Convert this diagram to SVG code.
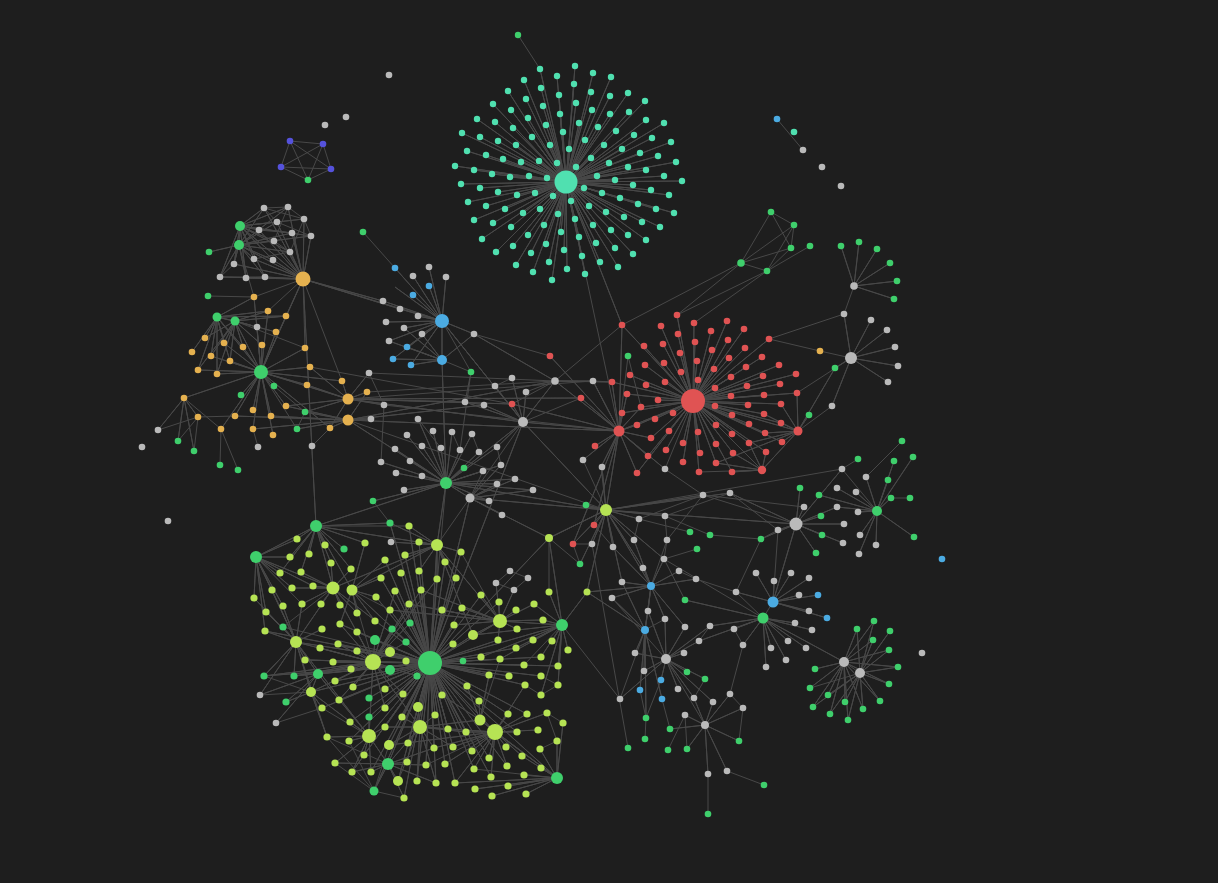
<svg xmlns="http://www.w3.org/2000/svg" width="1218" height="883" viewBox="0 0 1218 883">
<style>
.t{fill:#50e0b0}.r{fill:#e05353}.l{fill:#b6e354}.g{fill:#3fcf6c}.o{fill:#e5b14f}.b{fill:#4babe2}.p{fill:#5552dc}.y{fill:#bababa}
.e path{fill:none;stroke:#484848;stroke-width:1;stroke-linejoin:round}
</style>
<rect width="1218" height="883" fill="#1e1e1e"/>
<g id="connectors" class="e">
<path d="M566 182 540 69 566 182 575 66 566 182 557 76 566 182 593 73 566 182 611 77 566 182 524 80 566 182 541 88 566 182 574 84 566 182 508 91 566 182 591 92 566 182 628 93 566 182 526 99 566 182 559 95 566 182 610 96 566 182 493 104 566 182 576 103 566 182 645 101 566 182 543 106 566 182 511 110 566 182 592 110 566 182 629 112 566 182 477 119 566 182 528 118 566 182 560 114 566 182 610 114 566 182 646 120 566 182 664 123 566 182 495 122 566 182 546 125 566 182 579 123 566 182 598 127 566 182 616 131 566 182 462 133 566 182 513 128 566 182 563 132 566 182 634 135 566 182 652 138 566 182 671 142 566 182 480 137 566 182 498 141 566 182 516 145 566 182 532 137 566 182 550 145 566 182 585 140 566 182 604 145 566 182 622 149 566 182 640 153 566 182 658 156 566 182 676 162 566 182 467 151 566 182 486 155 566 182 503 159 566 182 521 162 566 182 539 161 566 182 557 163 566 182 569 149 566 182 576 167 566 182 591 158 566 182 609 163 566 182 628 167 566 182 646 170 566 182 664 176 566 182 682 181 566 182 455 166 566 182 474 170 566 182 492 174 566 182 510 177 566 182 529 176 566 182 547 178 566 182 597 176 566 182 615 180 566 182 633 185 566 182 651 190 566 182 669 195 566 182 461 184 566 182 480 188 566 182 498 192 566 182 517 195 566 182 535 193 566 182 553 196 566 182 584 188 566 182 602 193 566 182 620 198 566 182 638 204 566 182 656 209 566 182 674 213 566 182 468 202 566 182 486 206 566 182 505 209 566 182 523 213 566 182 540 209 566 182 558 214 566 182 571 201 566 182 589 206 566 182 606 212 566 182 624 217 566 182 642 222 566 182 660 227 566 182 474 220 566 182 493 223 566 182 511 227 566 182 528 235 566 182 544 225 566 182 561 232 566 182 575 219 566 182 593 225 566 182 611 230 566 182 628 235 566 182 646 240 566 182 482 239 566 182 496 252 566 182 513 246 566 182 531 253 566 182 546 244 566 182 564 250 566 182 579 237 566 182 596 243 566 182 615 248 566 182 633 254 566 182 516 265 566 182 533 272 566 182 549 262 566 182 567 269 566 182 582 256 566 182 600 262 566 182 618 267 566 182 552 280 566 182 585 274 566 182 622 325 566 182 619 431M540 69 518 35"/>
<path d="M693 401 677 315 693 401 622 325 693 401 661 326 693 401 694 323 693 401 727 321 693 401 744 329 693 401 644 346 693 401 678 334 693 401 711 331 693 401 663 344 693 401 695 342 693 401 728 340 693 401 745 348 693 401 769 339 693 401 680 353 693 401 712 350 693 401 645 365 693 401 664 363 693 401 697 361 693 401 729 358 693 401 746 367 693 401 762 357 693 401 779 365 693 401 796 374 693 401 612 382 693 401 630 375 693 401 681 372 693 401 714 369 693 401 731 377 693 401 763 376 693 401 646 385 693 401 665 382 693 401 698 380 693 401 747 386 693 401 780 384 693 401 797 393 693 401 627 394 693 401 658 400 693 401 715 388 693 401 731 396 693 401 764 395 693 401 781 404 693 401 641 407 693 401 673 413 693 401 715 406 693 401 748 405 693 401 622 413 693 401 655 419 693 401 732 415 693 401 764 414 693 401 637 425 693 401 669 431 693 401 698 432 693 401 716 425 693 401 749 424 693 401 781 423 693 401 651 438 693 401 683 443 693 401 732 434 693 401 765 433 693 401 716 444 693 401 749 443 693 401 782 442 693 401 648 456 693 401 666 450 693 401 700 453 693 401 733 453 693 401 766 452 693 401 683 462 693 401 716 463 693 401 637 473 693 401 699 472 693 401 732 472 693 401 619 431 693 401 798 431 693 401 762 470"/>
<path d="M619 431 581 398 619 431 595 446 619 431 550 356 619 431 512 404 619 431 622 325 619 431 612 382 619 431 637 473 619 431 594 525 619 431 573 544 619 431 606 510 619 431 651 438 619 431 641 407 619 431 622 413 619 431 627 394 619 431 583 460 619 431 601 467 619 431 523 422 619 431 555 381 619 431 637 425 619 431 648 456 619 431 665 469 619 431 593 381 619 431 628 356M798 431 781 404 798 431 764 414 798 431 765 433 798 431 749 443 798 431 797 393 798 431 762 470 798 431 782 442 798 431 781 423 798 431 809 415 798 431 835 368 798 431 716 463 798 431 832 406M762 470 766 452 762 470 733 453 762 470 749 443 762 470 732 472 762 470 716 463 762 470 699 472M677 315 741 263M694 323 767 271M769 339 844 314M820 351 769 339M820 351 851 358M512 404 555 381 622 325M550 356 474 334M581 398 523 422M628 356 641 407M665 469 693 401"/>
<path d="M851 358 844 314 851 358 871 320 851 358 887 330 851 358 895 347 851 358 898 366 851 358 888 382 851 358 832 406 851 358 835 368 851 358 797 393M854 286 841 246 854 286 859 242 854 286 877 249 854 286 890 263 854 286 897 281 854 286 894 299 854 286 844 314M771 212 794 225M771 212 791 248M771 212 741 263M794 225 741 263M794 225 767 271M794 225 791 248M791 248 741 263M791 248 767 271M810 246 767 271M741 263 767 271M741 263 622 325M767 271 677 315M777 119 803 150"/>
<path d="M796 524 778 530 796 524 804 507 796 524 821 516 796 524 822 535 796 524 816 553 796 524 837 507 796 524 844 524 796 524 843 543 796 524 730 493 796 524 761 539 796 524 800 488 796 524 842 469 796 524 773 602 796 524 606 510 796 524 703 495M877 511 856 492 877 511 837 488 877 511 888 480 877 511 891 498 877 511 858 512 877 511 860 535 877 511 876 545 877 511 859 554 877 511 914 537 877 511 837 507 877 511 819 495 877 511 894 461 877 511 913 457 877 511 866 477 877 511 842 469M866 477 902 441M842 469 858 459M891 498 910 498M778 530 730 493M778 530 761 539M778 530 773 602M761 539 710 535M804 507 703 495M730 493 665 516M703 495 665 469M703 495 639 519"/>
<path d="M773 602 756 573 773 602 774 581 773 602 791 573 773 602 809 578 773 602 818 595 773 602 799 595 773 602 809 611 773 602 827 618 773 602 736 592 773 602 763 618M763 618 710 626 763 618 734 629 763 618 743 645 763 618 771 648 763 618 788 641 763 618 806 648 763 618 786 660 763 618 766 667 763 618 795 623 763 618 812 630 763 618 699 641 763 618 844 662 763 618 685 600 763 618 664 559M844 662 857 629 844 662 874 621 844 662 873 640 844 662 889 650 844 662 898 667 844 662 889 684 844 662 880 701 844 662 863 709 844 662 848 720 844 662 845 702 844 662 830 714 844 662 828 695 844 662 813 707 844 662 810 688 844 662 815 669 844 662 860 673M860 673 857 629 860 673 874 621 860 673 890 631 860 673 873 640 860 673 889 650 860 673 898 667 860 673 889 684 860 673 880 701 860 673 863 709 860 673 848 720 860 673 845 702 860 673 830 714 860 673 813 707 860 673 828 695 860 673 810 688"/>
<path d="M606 510 586 505 606 510 594 525 606 510 573 544 606 510 639 519 606 510 665 516 606 510 703 495 606 510 730 493 606 510 549 538 606 510 634 540 606 510 613 547 606 510 592 544 606 510 664 559 606 510 643 568 606 510 651 586 606 510 622 582 606 510 523 422 606 510 446 483 606 510 470 498 606 510 602 467 606 510 580 564 606 510 587 592 606 510 842 469M651 586 643 568 651 586 622 582 651 586 612 598 651 586 648 611 651 586 665 619 651 586 685 627 651 586 645 630 651 586 664 559 651 586 679 571 651 586 696 579 651 586 613 547 651 586 587 592 651 586 634 540 651 586 667 540M645 630 648 611 645 630 635 653 645 630 646 718 645 630 644 671 645 630 640 690 645 630 662 699 645 630 622 582 645 630 612 598 645 630 587 592 645 630 665 619M666 659 684 653 666 659 665 619 666 659 685 627 666 659 644 671 666 659 678 689 666 659 694 698 666 659 713 702 666 659 661 680 666 659 687 672 666 659 705 679 666 659 710 626 666 659 699 641 666 659 620 699 666 659 648 611 666 659 635 653 666 659 612 598M705 725 685 715 705 725 713 702 705 725 730 694 705 725 743 708 705 725 739 741 705 725 708 774 705 725 727 771 705 725 670 729 705 725 687 749 705 725 694 698 705 725 666 659"/>
<path d="M708 774 708 814M727 771 764 785M646 718 645 739M640 690 646 718M661 680 646 718M662 699 670 729M685 715 668 750M685 715 687 749M620 699 562 625M620 699 645 630M628 748 592 544M736 592 763 618M736 592 696 579M734 629 743 645M710 626 699 641M743 708 730 694M730 694 743 645M739 741 743 708M694 698 705 679M667 540 664 559M667 540 703 495M665 516 667 540M639 519 634 540M685 600 664 559M696 579 679 571M761 539 736 592M710 535 665 516M697 549 664 559M690 532 639 519M592 544 573 544M613 547 594 525M580 564 549 538M580 564 573 544M583 460 606 510M601 467 606 510"/>
<path d="M523 422 465 402 523 422 484 405 523 422 495 386 523 422 512 378 523 422 526 392 523 422 512 404 523 422 555 381 523 422 497 447 523 422 446 483 523 422 442 321M555 381 593 381 555 381 474 334 555 381 612 382 555 381 526 392M593 381 612 382M593 381 619 431M348 399 307 385 348 399 342 381 348 399 367 392 348 399 330 428 348 399 286 406 348 399 305 412 348 399 261 372 348 399 310 367 348 399 369 373 348 399 384 405 348 399 465 402 348 399 512 404 348 399 523 422 348 399 581 398 348 399 593 381M348 420 330 428 348 420 297 429 348 420 253 429 348 420 271 416 348 420 235 416 348 420 286 406 348 420 305 412 348 420 367 392 348 420 371 419 348 420 484 405 348 420 446 483 348 420 555 381 348 420 619 431 348 420 606 510M367 392 555 381M384 405 619 431M369 373 555 381M310 367 512 404"/>
<path d="M261 372 217 317 261 372 235 321 261 372 254 297 261 372 268 311 261 372 286 316 261 372 257 327 261 372 276 332 261 372 224 343 261 372 243 347 261 372 262 345 261 372 305 348 261 372 211 356 261 372 230 361 261 372 198 370 261 372 217 374 261 372 310 367 261 372 274 386 261 372 307 385 261 372 342 381 261 372 241 395 261 372 184 398 261 372 286 406 261 372 253 410 261 372 235 416 261 372 271 416 261 372 221 429 261 372 253 429 261 372 273 435 261 372 330 428 261 372 303 279 261 372 297 429M217 317 205 338 217 317 224 343 217 317 243 347 217 317 192 352 217 317 211 356 217 317 230 361 217 317 198 370 217 317 217 374 217 317 268 311 217 317 286 316 217 317 254 297 217 317 235 321 217 317 257 327M235 321 205 338 235 321 224 343 235 321 243 347 235 321 262 345 235 321 211 356 235 321 230 361 235 321 198 370 235 321 217 374 235 321 268 311 235 321 286 316 235 321 276 332 235 321 257 327 235 321 305 348M184 398 158 430 184 398 198 417 184 398 178 441 184 398 194 451 184 398 221 429M198 417 178 441M198 417 194 451M198 417 235 416M221 429 220 465M221 429 238 470M253 429 258 447M312 446 330 428M158 430 198 417M286 316 303 279M268 311 303 279M305 348 303 279M342 381 303 279M305 412 297 429M274 386 305 412M384 405 381 462M369 373 384 405M208 296 254 297M254 297 303 279"/>
<path d="M303 279 264 208 303 279 288 207 303 279 304 219 303 279 277 222 303 279 259 230 303 279 292 233 303 279 311 236 303 279 274 241 303 279 290 252 303 279 254 259 303 279 273 260 303 279 234 264 303 279 220 277 303 279 246 278 303 279 265 277 303 279 240 226 303 279 239 245 303 279 316 526 303 279 383 301 303 279 400 309 303 279 442 321M240 226 264 208 240 226 288 207 240 226 304 219 240 226 277 222 240 226 259 230 240 226 292 233 240 226 311 236 240 226 274 241 240 226 290 252 240 226 254 259 240 226 273 260 240 226 234 264 240 226 220 277 240 226 246 278 240 226 265 277 240 226 239 245M239 245 264 208 239 245 288 207 239 245 277 222 239 245 259 230 239 245 292 233 239 245 311 236 239 245 274 241 239 245 290 252 239 245 254 259 239 245 273 260 239 245 234 264 239 245 220 277 239 245 246 278 239 245 265 277 239 245 209 252 239 245 254 297M264 208 288 207 304 219 264 208M304 219 311 236M277 222 311 236M259 230 292 233M274 241 290 252 254 259M234 264 220 277 265 277M246 278 265 277M304 219 290 252M288 207 274 241M264 208 277 222M290 141 323 144 331 169 308 180 281 167 290 141 331 169 281 167 323 144 308 180 290 141"/>
<path d="M442 321 395 268 442 321 413 276 442 321 429 267 442 321 446 277 442 321 429 286 442 321 413 295 442 321 383 301 442 321 400 309 442 321 418 316 442 321 386 322 442 321 404 328 442 321 422 334 442 321 474 334 442 321 389 341 442 321 407 347 442 321 393 359 442 321 411 365 442 321 442 360 442 321 395 287 442 321 523 422 442 321 471 372M442 360 407 347 442 360 411 365 442 360 393 359 442 360 422 334 442 360 474 334 442 360 389 341 442 360 404 328 442 360 446 483 442 360 471 372M363 232 395 268M471 372 465 402M471 372 460 450"/>
<path d="M446 483 418 419 446 483 433 431 446 483 407 435 446 483 452 432 446 483 472 434 446 483 422 446 446 483 441 448 446 483 460 450 446 483 497 447 446 483 395 449 446 483 479 452 446 483 381 462 446 483 410 461 446 483 464 468 446 483 501 465 446 483 483 471 446 483 422 476 446 483 396 473 446 483 515 479 446 483 497 484 446 483 404 490 446 483 533 490 446 483 470 498 446 483 489 501 446 483 373 501 446 483 316 526 446 483 430 663M470 498 489 501 470 498 502 515 470 498 533 490 470 498 497 484 470 498 515 479 470 498 549 538 470 498 430 663 470 498 501 465 470 498 483 471M465 402 484 405M495 386 512 378M418 419 441 448M452 432 460 450M472 434 479 452M497 447 501 465M373 501 390 523"/>
<path d="M430 663 373 662 430 663 390 652 430 663 390 670 430 663 406 661 430 663 417 676 430 663 406 642 430 663 392 629 430 663 410 623 430 663 375 640 430 663 357 651 430 663 351 669 430 663 353 687 430 663 385 689 430 663 403 694 430 663 418 707 430 663 402 717 430 663 435 715 430 663 385 708 430 663 369 698 430 663 420 727 430 663 385 727 430 663 369 717 430 663 389 745 430 663 408 743 430 663 434 748 430 663 398 781 430 663 417 781 430 663 436 783 430 663 426 765 430 663 407 762 430 663 388 764 430 663 369 736 430 663 442 695 430 663 463 661 430 663 453 644 430 663 481 657 430 663 467 686 430 663 479 701 430 663 489 675 430 663 500 659 430 663 473 635 430 663 454 625 430 663 442 610 430 663 462 608 430 663 500 621 430 663 498 640 430 663 516 648 430 663 524 665 430 663 509 676 430 663 541 657 430 663 541 676 430 663 558 666 430 663 562 625 430 663 448 729 430 663 466 732 430 663 480 720 430 663 495 732 430 663 453 747 430 663 445 764 430 663 455 783 430 663 474 769 430 663 472 751 430 663 489 758 430 663 437 579 430 663 421 590 430 663 437 545 430 663 419 571 430 663 395 591 430 663 409 604 430 663 390 610 430 663 376 597 430 663 357 632 430 663 338 644 430 663 340 624 430 663 333 662 430 663 305 660 430 663 318 674 430 663 335 681 430 663 311 692 430 663 339 700 430 663 322 708 430 663 350 722 430 663 349 741 430 663 352 772 430 663 371 772 430 663 364 755 430 663 374 791 430 663 404 798 430 663 296 642 430 663 333 588 430 663 352 590 430 663 381 578 430 663 401 573 430 663 385 560 430 663 405 555 430 663 419 542 430 663 409 526 430 663 390 523 430 663 445 562 430 663 456 578 430 663 461 552 430 663 481 595 430 663 499 602 430 663 525 685 430 663 508 714 430 663 527 714 430 663 517 732 430 663 507 766 430 663 491 777 430 663 557 778 430 663 523 422 430 663 549 538 430 663 264 676 430 663 294 676 430 663 265 631 430 663 283 627"/>
<path d="M316 526 297 539 316 526 325 545 316 526 290 557 316 526 309 554 316 526 331 563 316 526 351 569 316 526 280 573 316 526 301 572 316 526 256 557 316 526 344 549 316 526 365 543 316 526 390 523 316 526 333 588 316 526 352 590 316 526 437 545 316 526 409 526M256 557 290 557 256 557 280 573 256 557 272 590 256 557 254 598 256 557 266 612 256 557 265 631 256 557 283 606 256 557 297 539 256 557 292 588 256 557 333 588 256 557 296 642 256 557 313 586 256 557 302 604M373 662 340 624 373 662 357 632 373 662 357 651 373 662 338 644 373 662 320 648 373 662 305 660 373 662 333 662 373 662 351 669 373 662 335 681 373 662 353 687 373 662 339 700 373 662 311 692 373 662 390 652 373 662 390 670 373 662 375 640 373 662 296 642 373 662 264 676 373 662 294 676 373 662 318 674 373 662 409 604 373 662 421 590 373 662 437 579 373 662 395 591 373 662 406 642 373 662 410 623 373 662 392 629 373 662 417 676 373 662 403 694 373 662 385 708 373 662 369 736 373 662 420 727 373 662 333 588 373 662 352 590M296 642 254 598 296 642 266 612 296 642 265 631 296 642 283 627 296 642 283 606 296 642 272 590 296 642 305 660 296 642 264 676 296 642 294 676 296 642 260 695 296 642 322 629 296 642 302 604 296 642 333 588 296 642 369 736 296 642 311 692 296 642 318 674 296 642 327 737M333 588 313 586 333 588 302 604 333 588 321 604 333 588 340 605 333 588 357 613 333 588 351 569 333 588 331 563 333 588 301 572 333 588 292 588 333 588 283 627M352 590 376 597 352 590 357 613 352 590 381 578 352 590 365 543 352 590 385 560 352 590 340 624 352 590 375 621 352 590 437 545 352 590 390 610M318 674 286 702 318 674 311 692 318 674 276 723 318 674 260 695 318 674 339 700M311 692 322 708 311 692 327 737 311 692 286 702 311 692 260 695M322 708 276 723M264 676 311 692M264 676 296 642"/>
<path d="M500 621 481 595 500 621 499 602 500 621 516 610 500 621 534 604 500 621 517 629 500 621 498 640 500 621 543 620 500 621 454 625 500 621 473 635 500 621 562 625 500 621 462 608 500 621 442 610 500 621 496 583 500 621 514 590 500 621 437 545 500 621 421 590 500 621 409 604 500 621 390 610 500 621 461 552M562 625 543 620 562 625 552 641 562 625 568 650 562 625 558 666 562 625 541 657 562 625 533 640 562 625 549 592 562 625 587 592 562 625 549 538 562 625 534 604 562 625 558 685 562 625 541 695 562 625 473 635 562 625 481 657 562 625 500 659 562 625 516 648 562 625 524 665M495 732 480 720 495 732 508 714 495 732 527 714 495 732 517 732 495 732 538 730 495 732 506 747 495 732 522 756 495 732 489 758 495 732 472 751 495 732 466 732 495 732 453 747 495 732 474 769 495 732 491 777 495 732 507 766 495 732 547 713 495 732 525 685 495 732 420 727 495 732 389 745 495 732 434 748 495 732 445 764 495 732 455 783 495 732 426 765M557 778 541 768 557 778 524 775 557 778 526 794 557 778 508 786 557 778 540 749 557 778 557 741 557 778 563 723 557 778 522 756 557 778 492 796 557 778 475 789 557 778 495 732 557 778 480 720 557 778 455 783 557 778 474 769M420 727 402 717 420 727 435 715 420 727 385 727 420 727 408 743 420 727 389 745 420 727 434 748 420 727 448 729 420 727 418 707 420 727 480 720 420 727 466 732 420 727 453 747 420 727 436 783 420 727 417 781 420 727 398 781M369 736 349 741 369 736 364 755 369 736 350 722 369 736 327 737 369 736 335 763 369 736 352 772 369 736 371 772 369 736 385 727 369 736 369 717 369 736 388 764 369 736 311 692 369 736 318 674 369 736 322 708M388 764 374 791 388 764 398 781 388 764 404 798 388 764 371 772 388 764 352 772 388 764 407 762 388 764 420 727 388 764 434 748 388 764 426 765 388 764 436 783 388 764 335 763 388 764 327 737M374 791 404 798M374 791 335 763M374 791 349 741M374 791 327 737M374 791 389 745M437 545 419 542 437 545 409 526 437 545 405 555 437 545 419 571 437 545 437 579 437 545 456 578 437 545 461 552 437 545 445 562 437 545 390 523 437 545 391 542 437 545 333 588 437 545 473 635 437 545 446 483 437 545 523 422M480 720 442 695 480 720 467 686 480 720 479 701 480 720 489 675 480 720 500 659M549 538 606 510M549 538 549 592M510 571 496 583 514 590 528 578 510 571M541 676 558 685 541 695 525 685M563 723 547 713 557 741 540 749"/>
</g>
<g id="nodes">
<g id="teal-cluster" class="t">
<circle id="teal-hub" cx="566" cy="182" r="11.5"/>
<circle cx="540" cy="69" r="3.2"/><circle cx="575" cy="66" r="3.2"/><circle cx="557" cy="76" r="3.2"/><circle cx="593" cy="73" r="3.2"/><circle cx="611" cy="77" r="3.2"/><circle cx="524" cy="80" r="3.2"/><circle cx="541" cy="88" r="3.2"/><circle cx="574" cy="84" r="3.2"/><circle cx="508" cy="91" r="3.2"/><circle cx="591" cy="92" r="3.2"/><circle cx="628" cy="93" r="3.2"/><circle cx="526" cy="99" r="3.2"/><circle cx="559" cy="95" r="3.2"/><circle cx="610" cy="96" r="3.2"/><circle cx="493" cy="104" r="3.2"/><circle cx="576" cy="103" r="3.2"/><circle cx="645" cy="101" r="3.2"/><circle cx="543" cy="106" r="3.2"/><circle cx="511" cy="110" r="3.2"/><circle cx="592" cy="110" r="3.2"/><circle cx="629" cy="112" r="3.2"/><circle cx="477" cy="119" r="3.2"/><circle cx="528" cy="118" r="3.2"/><circle cx="560" cy="114" r="3.2"/><circle cx="610" cy="114" r="3.2"/><circle cx="646" cy="120" r="3.2"/><circle cx="664" cy="123" r="3.2"/><circle cx="495" cy="122" r="3.2"/><circle cx="546" cy="125" r="3.2"/><circle cx="579" cy="123" r="3.2"/><circle cx="598" cy="127" r="3.2"/><circle cx="616" cy="131" r="3.2"/><circle cx="462" cy="133" r="3.2"/><circle cx="513" cy="128" r="3.2"/><circle cx="563" cy="132" r="3.2"/><circle cx="634" cy="135" r="3.2"/><circle cx="652" cy="138" r="3.2"/><circle cx="671" cy="142" r="3.2"/><circle cx="480" cy="137" r="3.2"/><circle cx="498" cy="141" r="3.2"/><circle cx="516" cy="145" r="3.2"/><circle cx="532" cy="137" r="3.2"/><circle cx="550" cy="145" r="3.2"/><circle cx="585" cy="140" r="3.2"/><circle cx="604" cy="145" r="3.2"/><circle cx="622" cy="149" r="3.2"/><circle cx="640" cy="153" r="3.2"/><circle cx="658" cy="156" r="3.2"/><circle cx="676" cy="162" r="3.2"/><circle cx="467" cy="151" r="3.2"/><circle cx="486" cy="155" r="3.2"/><circle cx="503" cy="159" r="3.2"/><circle cx="521" cy="162" r="3.2"/><circle cx="539" cy="161" r="3.2"/><circle cx="557" cy="163" r="3.2"/><circle cx="569" cy="149" r="3.2"/><circle cx="576" cy="167" r="3.2"/><circle cx="591" cy="158" r="3.2"/><circle cx="609" cy="163" r="3.2"/><circle cx="628" cy="167" r="3.2"/><circle cx="646" cy="170" r="3.2"/><circle cx="664" cy="176" r="3.2"/><circle cx="682" cy="181" r="3.2"/><circle cx="455" cy="166" r="3.2"/><circle cx="474" cy="170" r="3.2"/><circle cx="492" cy="174" r="3.2"/><circle cx="510" cy="177" r="3.2"/><circle cx="529" cy="176" r="3.2"/><circle cx="547" cy="178" r="3.2"/><circle cx="597" cy="176" r="3.2"/><circle cx="615" cy="180" r="3.2"/><circle cx="633" cy="185" r="3.2"/><circle cx="651" cy="190" r="3.2"/><circle cx="669" cy="195" r="3.2"/><circle cx="461" cy="184" r="3.2"/><circle cx="480" cy="188" r="3.2"/><circle cx="498" cy="192" r="3.2"/><circle cx="517" cy="195" r="3.2"/><circle cx="535" cy="193" r="3.2"/><circle cx="553" cy="196" r="3.2"/><circle cx="584" cy="188" r="3.2"/><circle cx="602" cy="193" r="3.2"/><circle cx="620" cy="198" r="3.2"/><circle cx="638" cy="204" r="3.2"/><circle cx="656" cy="209" r="3.2"/><circle cx="674" cy="213" r="3.2"/><circle cx="468" cy="202" r="3.2"/><circle cx="486" cy="206" r="3.2"/><circle cx="505" cy="209" r="3.2"/><circle cx="523" cy="213" r="3.2"/><circle cx="540" cy="209" r="3.2"/><circle cx="558" cy="214" r="3.2"/><circle cx="571" cy="201" r="3.2"/><circle cx="589" cy="206" r="3.2"/><circle cx="606" cy="212" r="3.2"/><circle cx="624" cy="217" r="3.2"/><circle cx="642" cy="222" r="3.2"/><circle cx="660" cy="227" r="3.2"/><circle cx="474" cy="220" r="3.2"/><circle cx="493" cy="223" r="3.2"/><circle cx="511" cy="227" r="3.2"/><circle cx="528" cy="235" r="3.2"/><circle cx="544" cy="225" r="3.2"/><circle cx="561" cy="232" r="3.2"/><circle cx="575" cy="219" r="3.2"/><circle cx="593" cy="225" r="3.2"/><circle cx="611" cy="230" r="3.2"/><circle cx="628" cy="235" r="3.2"/><circle cx="646" cy="240" r="3.2"/><circle cx="482" cy="239" r="3.2"/><circle cx="496" cy="252" r="3.2"/><circle cx="513" cy="246" r="3.2"/><circle cx="531" cy="253" r="3.2"/><circle cx="546" cy="244" r="3.2"/><circle cx="564" cy="250" r="3.2"/><circle cx="579" cy="237" r="3.2"/><circle cx="596" cy="243" r="3.2"/><circle cx="615" cy="248" r="3.2"/><circle cx="633" cy="254" r="3.2"/><circle cx="516" cy="265" r="3.2"/><circle cx="533" cy="272" r="3.2"/><circle cx="549" cy="262" r="3.2"/><circle cx="567" cy="269" r="3.2"/><circle cx="582" cy="256" r="3.2"/><circle cx="600" cy="262" r="3.2"/><circle cx="618" cy="267" r="3.2"/><circle cx="552" cy="280" r="3.2"/><circle cx="585" cy="274" r="3.2"/>
<circle class="g" cx="518" cy="35" r="3.2"/>
</g>
<g id="red-cluster" class="r">
<circle id="red-hub" cx="693" cy="401" r="12"/>
<circle cx="619" cy="431" r="5.5"/><circle cx="798" cy="431" r="4.5"/><circle cx="762" cy="470" r="4.2"/>
<circle cx="677" cy="315" r="3.3"/><circle cx="622" cy="325" r="3.3"/><circle cx="661" cy="326" r="3.3"/><circle cx="694" cy="323" r="3.3"/><circle cx="727" cy="321" r="3.3"/><circle cx="744" cy="329" r="3.3"/><circle cx="644" cy="346" r="3.3"/><circle cx="678" cy="334" r="3.3"/><circle cx="711" cy="331" r="3.3"/><circle cx="663" cy="344" r="3.3"/><circle cx="695" cy="342" r="3.3"/><circle cx="728" cy="340" r="3.3"/><circle cx="745" cy="348" r="3.3"/><circle cx="769" cy="339" r="3.3"/><circle cx="680" cy="353" r="3.3"/><circle cx="712" cy="350" r="3.3"/><circle cx="645" cy="365" r="3.3"/><circle cx="664" cy="363" r="3.3"/><circle cx="697" cy="361" r="3.3"/><circle cx="729" cy="358" r="3.3"/><circle cx="746" cy="367" r="3.3"/><circle cx="762" cy="357" r="3.3"/><circle cx="779" cy="365" r="3.3"/><circle cx="796" cy="374" r="3.3"/><circle cx="612" cy="382" r="3.3"/><circle cx="630" cy="375" r="3.3"/><circle cx="681" cy="372" r="3.3"/><circle cx="714" cy="369" r="3.3"/><circle cx="731" cy="377" r="3.3"/><circle cx="763" cy="376" r="3.3"/><circle cx="646" cy="385" r="3.3"/><circle cx="665" cy="382" r="3.3"/><circle cx="698" cy="380" r="3.3"/><circle cx="747" cy="386" r="3.3"/><circle cx="780" cy="384" r="3.3"/><circle cx="797" cy="393" r="3.3"/><circle cx="627" cy="394" r="3.3"/><circle cx="658" cy="400" r="3.3"/><circle cx="715" cy="388" r="3.3"/><circle cx="731" cy="396" r="3.3"/><circle cx="764" cy="395" r="3.3"/><circle cx="781" cy="404" r="3.3"/><circle cx="641" cy="407" r="3.3"/><circle cx="673" cy="413" r="3.3"/><circle cx="715" cy="406" r="3.3"/><circle cx="748" cy="405" r="3.3"/><circle cx="622" cy="413" r="3.3"/><circle cx="655" cy="419" r="3.3"/><circle cx="732" cy="415" r="3.3"/><circle cx="764" cy="414" r="3.3"/><circle cx="637" cy="425" r="3.3"/><circle cx="669" cy="431" r="3.3"/><circle cx="698" cy="432" r="3.3"/><circle cx="716" cy="425" r="3.3"/><circle cx="749" cy="424" r="3.3"/><circle cx="781" cy="423" r="3.3"/><circle cx="651" cy="438" r="3.3"/><circle cx="683" cy="443" r="3.3"/><circle cx="732" cy="434" r="3.3"/><circle cx="765" cy="433" r="3.3"/><circle cx="716" cy="444" r="3.3"/><circle cx="749" cy="443" r="3.3"/><circle cx="782" cy="442" r="3.3"/><circle cx="648" cy="456" r="3.3"/><circle cx="666" cy="450" r="3.3"/><circle cx="700" cy="453" r="3.3"/><circle cx="733" cy="453" r="3.3"/><circle cx="766" cy="452" r="3.3"/><circle cx="683" cy="462" r="3.3"/><circle cx="716" cy="463" r="3.3"/><circle cx="637" cy="473" r="3.3"/><circle cx="699" cy="472" r="3.3"/><circle cx="732" cy="472" r="3.3"/>
<circle cx="550" cy="356" r="3.3"/><circle cx="581" cy="398" r="3.3"/><circle cx="512" cy="404" r="3.3"/><circle cx="595" cy="446" r="3.3"/><circle cx="594" cy="525" r="3.3"/><circle cx="573" cy="544" r="3.3"/>
</g>
<g id="right-upper" class="y">
<circle cx="851" cy="358" r="6"/><circle cx="844" cy="314" r="3.3"/><circle cx="871" cy="320" r="3.3"/><circle cx="887" cy="330" r="3.3"/><circle cx="895" cy="347" r="3.3"/><circle cx="898" cy="366" r="3.3"/><circle cx="888" cy="382" r="3.3"/><circle cx="832" cy="406" r="3.3"/>
<circle class="o" cx="820" cy="351" r="3.3"/><circle class="g" cx="835" cy="368" r="3.3"/><circle class="g" cx="809" cy="415" r="3.3"/><circle class="g" cx="628" cy="356" r="3.3"/>
<circle cx="854" cy="286" r="3.8"/><circle class="g" cx="841" cy="246" r="3.3"/><circle class="g" cx="859" cy="242" r="3.3"/><circle class="g" cx="877" cy="249" r="3.3"/><circle class="g" cx="890" cy="263" r="3.3"/><circle class="g" cx="897" cy="281" r="3.3"/><circle class="g" cx="894" cy="299" r="3.3"/>
<circle class="g" cx="771" cy="212" r="3.3"/><circle class="g" cx="794" cy="225" r="3.3"/><circle class="g" cx="791" cy="248" r="3.3"/><circle class="g" cx="810" cy="246" r="3.3"/><circle class="g" cx="741" cy="263" r="3.8"/><circle class="g" cx="767" cy="271" r="3.3"/>
<circle class="b" cx="777" cy="119" r="3.3"/><circle class="t" cx="794" cy="132" r="3.3"/><circle cx="803" cy="150" r="3.3"/><circle cx="822" cy="167" r="3.3"/><circle cx="841" cy="186" r="3.3"/>
</g>
<g id="right-cluster" class="y">
<circle cx="796" cy="524" r="6.5"/><circle class="g" cx="877" cy="511" r="5"/>
<circle class="g" cx="800" cy="488" r="3.3"/><circle class="g" cx="819" cy="495" r="3.3"/><circle cx="837" cy="488" r="3.3"/><circle cx="856" cy="492" r="3.3"/><circle class="g" cx="888" cy="480" r="3.3"/><circle class="g" cx="891" cy="498" r="3.3"/><circle class="g" cx="910" cy="498" r="3.3"/><circle cx="858" cy="512" r="3.3"/><circle cx="837" cy="507" r="3.3"/><circle cx="804" cy="507" r="3.3"/><circle class="g" cx="821" cy="516" r="3.3"/><circle cx="844" cy="524" r="3.3"/><circle cx="860" cy="535" r="3.3"/><circle class="g" cx="822" cy="535" r="3.3"/><circle cx="778" cy="530" r="3.3"/><circle cx="843" cy="543" r="3.3"/><circle cx="876" cy="545" r="3.3"/><circle cx="859" cy="554" r="3.3"/><circle class="g" cx="914" cy="537" r="3.3"/><circle class="g" cx="816" cy="553" r="3.3"/><circle class="b" cx="942" cy="559" r="3.3"/><circle class="g" cx="761" cy="539" r="3.3"/>
<circle class="g" cx="902" cy="441" r="3.3"/><circle class="g" cx="913" cy="457" r="3.3"/><circle class="g" cx="894" cy="461" r="3.3"/><circle class="g" cx="858" cy="459" r="3.3"/><circle cx="842" cy="469" r="3.3"/><circle cx="866" cy="477" r="3.3"/>
<circle class="b" cx="773" cy="602" r="5.5"/><circle class="g" cx="763" cy="618" r="5.5"/>
<circle cx="756" cy="573" r="3.3"/><circle cx="774" cy="581" r="3.3"/><circle cx="791" cy="573" r="3.3"/><circle cx="809" cy="578" r="3.3"/><circle class="b" cx="818" cy="595" r="3.3"/><circle cx="799" cy="595" r="3.3"/><circle cx="809" cy="611" r="3.3"/><circle class="b" cx="827" cy="618" r="3.3"/><circle cx="795" cy="623" r="3.3"/><circle cx="812" cy="630" r="3.3"/><circle cx="736" cy="592" r="3.3"/><circle cx="771" cy="648" r="3.3"/><circle cx="788" cy="641" r="3.3"/><circle cx="806" cy="648" r="3.3"/><circle cx="786" cy="660" r="3.3"/><circle cx="766" cy="667" r="3.3"/>
<circle cx="844" cy="662" r="5"/><circle cx="860" cy="673" r="5"/>
<circle class="g" cx="857" cy="629" r="3.3"/><circle class="g" cx="874" cy="621" r="3.3"/><circle class="g" cx="890" cy="631" r="3.3"/><circle class="g" cx="873" cy="640" r="3.3"/><circle class="g" cx="889" cy="650" r="3.3"/><circle class="g" cx="898" cy="667" r="3.3"/><circle class="g" cx="889" cy="684" r="3.3"/><circle class="g" cx="880" cy="701" r="3.3"/><circle class="g" cx="863" cy="709" r="3.3"/><circle class="g" cx="848" cy="720" r="3.3"/><circle class="g" cx="845" cy="702" r="3.3"/><circle class="g" cx="830" cy="714" r="3.3"/><circle class="g" cx="828" cy="695" r="3.3"/><circle class="g" cx="813" cy="707" r="3.3"/><circle class="g" cx="810" cy="688" r="3.3"/><circle class="g" cx="815" cy="669" r="3.3"/><circle cx="922" cy="653" r="3.3"/>
</g>
<g id="bottom-mid" class="y">
<circle cx="730" cy="493" r="3.3"/><circle cx="703" cy="495" r="3.3"/><circle cx="665" cy="516" r="3.3"/><circle cx="639" cy="519" r="3.3"/><circle cx="667" cy="540" r="3.3"/><circle cx="634" cy="540" r="3.3"/><circle cx="613" cy="547" r="3.3"/><circle cx="592" cy="544" r="3.3"/><circle cx="664" cy="559" r="3.3"/><circle cx="643" cy="568" r="3.3"/><circle cx="679" cy="571" r="3.3"/><circle cx="696" cy="579" r="3.3"/><circle cx="622" cy="582" r="3.3"/><circle cx="612" cy="598" r="3.3"/><circle cx="648" cy="611" r="3.3"/><circle cx="665" cy="619" r="3.3"/><circle cx="685" cy="627" r="3.3"/><circle cx="710" cy="626" r="3.3"/><circle cx="734" cy="629" r="3.3"/><circle cx="699" cy="641" r="3.3"/><circle cx="743" cy="645" r="3.3"/><circle cx="635" cy="653" r="3.3"/><circle cx="666" cy="659" r="5"/><circle cx="684" cy="653" r="3.3"/><circle cx="644" cy="671" r="3.3"/><circle cx="678" cy="689" r="3.3"/><circle cx="694" cy="698" r="3.3"/><circle cx="713" cy="702" r="3.3"/><circle cx="730" cy="694" r="3.3"/><circle cx="743" cy="708" r="3.3"/><circle cx="620" cy="699" r="3.3"/><circle cx="685" cy="715" r="3.3"/><circle cx="705" cy="725" r="4"/><circle cx="708" cy="774" r="3.3"/><circle cx="727" cy="771" r="3.3"/><circle cx="602" cy="467" r="3.3"/><circle cx="583" cy="460" r="3.3"/><circle cx="665" cy="469" r="3.3"/>
<circle class="b" cx="651" cy="586" r="4"/><circle class="b" cx="645" cy="630" r="4"/><circle class="b" cx="661" cy="680" r="3.3"/><circle class="b" cx="640" cy="690" r="3.3"/><circle class="b" cx="662" cy="699" r="3.3"/>
<circle class="g" cx="586" cy="505" r="3.3"/><circle class="g" cx="580" cy="564" r="3.3"/><circle class="g" cx="710" cy="535" r="3.3"/><circle class="g" cx="697" cy="549" r="3.3"/><circle class="g" cx="690" cy="532" r="3.3"/><circle class="g" cx="685" cy="600" r="3.3"/><circle class="g" cx="687" cy="672" r="3.3"/><circle class="g" cx="705" cy="679" r="3.3"/><circle class="g" cx="646" cy="718" r="3.3"/><circle class="g" cx="670" cy="729" r="3.3"/><circle class="g" cx="739" cy="741" r="3.3"/><circle class="g" cx="645" cy="739" r="3.3"/><circle class="g" cx="628" cy="748" r="3.3"/><circle class="g" cx="668" cy="750" r="3.3"/><circle class="g" cx="687" cy="749" r="3.3"/><circle class="g" cx="764" cy="785" r="3.3"/><circle class="g" cx="708" cy="814" r="3.3"/>
<circle class="l" cx="606" cy="510" r="6"/><circle class="l" cx="587" cy="592" r="3.5"/><circle class="l" cx="549" cy="538" r="4"/><circle class="l" cx="549" cy="592" r="3.5"/>
</g>
<g id="center-cluster" class="y">
<circle class="g" cx="446" cy="483" r="6"/><circle cx="523" cy="422" r="5"/>
<circle cx="418" cy="419" r="3.3"/><circle cx="433" cy="431" r="3.3"/><circle cx="407" cy="435" r="3.3"/><circle cx="452" cy="432" r="3.3"/><circle cx="472" cy="434" r="3.3"/><circle cx="422" cy="446" r="3.3"/><circle cx="441" cy="448" r="3.3"/><circle cx="460" cy="450" r="3.3"/><circle cx="497" cy="447" r="3.3"/><circle cx="395" cy="449" r="3.3"/><circle cx="479" cy="452" r="3.3"/><circle cx="381" cy="462" r="3.3"/><circle cx="410" cy="461" r="3.3"/><circle class="g" cx="464" cy="468" r="3.3"/><circle cx="501" cy="465" r="3.3"/><circle cx="483" cy="471" r="3.3"/><circle cx="422" cy="476" r="3.3"/><circle cx="396" cy="473" r="3.3"/><circle cx="515" cy="479" r="3.3"/><circle cx="497" cy="484" r="3.3"/><circle cx="404" cy="490" r="3.3"/><circle cx="533" cy="490" r="3.3"/><circle cx="470" cy="498" r="4.5"/><circle cx="489" cy="501" r="3.3"/><circle cx="502" cy="515" r="3.3"/><circle cx="465" cy="402" r="3.3"/><circle cx="484" cy="405" r="3.3"/><circle cx="495" cy="386" r="3.3"/><circle cx="512" cy="378" r="3.3"/><circle cx="526" cy="392" r="3.3"/><circle cx="555" cy="381" r="3.8"/><circle cx="593" cy="381" r="3.3"/><circle cx="474" cy="334" r="3.3"/><circle class="g" cx="471" cy="372" r="3.3"/><circle class="g" cx="373" cy="501" r="3.3"/>
</g>
<g id="blue-cluster" class="y">
<circle class="b" cx="442" cy="321" r="7"/><circle class="b" cx="442" cy="360" r="5"/>
<circle class="b" cx="395" cy="268" r="3.3"/><circle cx="413" cy="276" r="3.3"/><circle cx="429" cy="267" r="3.3"/><circle cx="446" cy="277" r="3.3"/><circle class="b" cx="429" cy="286" r="3.3"/><circle class="b" cx="413" cy="295" r="3.3"/><circle cx="383" cy="301" r="3.3"/><circle cx="400" cy="309" r="3.3"/><circle cx="418" cy="316" r="3.3"/><circle cx="386" cy="322" r="3.3"/><circle cx="404" cy="328" r="3.3"/><circle cx="422" cy="334" r="3.3"/><circle cx="389" cy="341" r="3.3"/><circle class="b" cx="407" cy="347" r="3.3"/><circle class="b" cx="393" cy="359" r="3.3"/><circle class="b" cx="411" cy="365" r="3.3"/><circle class="g" cx="363" cy="232" r="3.3"/>
</g>
<g id="purple-group" class="p">
<circle cx="290" cy="141" r="3.3"/><circle cx="323" cy="144" r="3.3"/><circle cx="281" cy="167" r="3.3"/><circle cx="331" cy="169" r="3.3"/><circle class="g" cx="308" cy="180" r="3.3"/>
<circle class="y" cx="389" cy="75" r="3.3"/><circle class="y" cx="346" cy="117" r="3.3"/><circle class="y" cx="325" cy="125" r="3.3"/>
</g>
<g id="upper-left-cluster" class="y">
<circle class="o" cx="303" cy="279" r="7.5"/><circle class="g" cx="240" cy="226" r="5"/><circle class="g" cx="239" cy="245" r="5"/><circle class="g" cx="209" cy="252" r="3.3"/>
<circle cx="264" cy="208" r="3.3"/><circle cx="288" cy="207" r="3.3"/><circle cx="304" cy="219" r="3.3"/><circle cx="277" cy="222" r="3.3"/><circle cx="259" cy="230" r="3.3"/><circle cx="292" cy="233" r="3.3"/><circle cx="311" cy="236" r="3.3"/><circle cx="274" cy="241" r="3.3"/><circle cx="290" cy="252" r="3.3"/><circle cx="254" cy="259" r="3.3"/><circle cx="273" cy="260" r="3.3"/><circle cx="234" cy="264" r="3.3"/><circle cx="220" cy="277" r="3.3"/><circle cx="246" cy="278" r="3.3"/><circle cx="265" cy="277" r="3.3"/>
</g>
<g id="orange-cluster" class="o">
<circle class="g" cx="261" cy="372" r="7"/><circle class="g" cx="217" cy="317" r="4.5"/><circle class="g" cx="235" cy="321" r="4.5"/>
<circle cx="348" cy="399" r="5.5"/><circle cx="348" cy="420" r="5.5"/>
<circle cx="254" cy="297" r="3.3"/><circle cx="268" cy="311" r="3.3"/><circle cx="286" cy="316" r="3.3"/><circle cx="276" cy="332" r="3.3"/><circle cx="205" cy="338" r="3.3"/><circle cx="224" cy="343" r="3.3"/><circle cx="243" cy="347" r="3.3"/><circle cx="262" cy="345" r="3.3"/><circle cx="305" cy="348" r="3.3"/><circle cx="192" cy="352" r="3.3"/><circle cx="211" cy="356" r="3.3"/><circle cx="230" cy="361" r="3.3"/><circle cx="198" cy="370" r="3.3"/><circle cx="217" cy="374" r="3.3"/><circle cx="310" cy="367" r="3.3"/><circle cx="307" cy="385" r="3.3"/><circle cx="342" cy="381" r="3.3"/><circle cx="367" cy="392" r="3.3"/><circle cx="184" cy="398" r="3.3"/><circle cx="286" cy="406" r="3.3"/><circle cx="253" cy="410" r="3.3"/><circle cx="198" cy="417" r="3.3"/><circle cx="235" cy="416" r="3.3"/><circle cx="271" cy="416" r="3.3"/><circle cx="330" cy="428" r="3.3"/><circle cx="221" cy="429" r="3.3"/><circle cx="253" cy="429" r="3.3"/><circle cx="273" cy="435" r="3.3"/>
<circle class="g" cx="208" cy="296" r="3.3"/><circle class="g" cx="274" cy="386" r="3.3"/><circle class="g" cx="241" cy="395" r="3.3"/><circle class="g" cx="305" cy="412" r="3.3"/><circle class="g" cx="297" cy="429" r="3.3"/><circle class="g" cx="178" cy="441" r="3.3"/><circle class="g" cx="194" cy="451" r="3.3"/><circle class="g" cx="220" cy="465" r="3.3"/><circle class="g" cx="238" cy="470" r="3.3"/>
<circle class="y" cx="257" cy="327" r="3.3"/><circle class="y" cx="369" cy="373" r="3.3"/><circle class="y" cx="384" cy="405" r="3.3"/><circle class="y" cx="371" cy="419" r="3.3"/><circle class="y" cx="158" cy="430" r="3.3"/><circle class="y" cx="258" cy="447" r="3.3"/><circle class="y" cx="312" cy="446" r="3.3"/><circle class="y" cx="142" cy="447" r="3.3"/><circle class="y" cx="168" cy="521" r="3.3"/>
</g>
<g id="lime-cluster" class="l">
<circle class="g" cx="316" cy="526" r="6"/><circle class="g" cx="256" cy="557" r="6"/><circle class="g" cx="390" cy="523" r="3.6"/><circle cx="409" cy="526" r="3.6"/><circle class="y" cx="391" cy="542" r="3.3"/><circle cx="419" cy="542" r="3.6"/><circle cx="437" cy="545" r="6"/><circle cx="297" cy="539" r="3.6"/><circle cx="325" cy="545" r="3.6"/><circle class="g" cx="344" cy="549" r="3.6"/><circle cx="365" cy="543" r="3.6"/><circle cx="290" cy="557" r="3.6"/><circle cx="309" cy="554" r="3.6"/><circle cx="331" cy="563" r="3.6"/><circle cx="385" cy="560" r="3.6"/><circle cx="405" cy="555" r="3.6"/><circle cx="351" cy="569" r="3.6"/><circle cx="280" cy="573" r="3.6"/><circle cx="301" cy="572" r="3.6"/><circle cx="381" cy="578" r="3.6"/><circle cx="401" cy="573" r="3.6"/><circle cx="419" cy="571" r="3.6"/><circle cx="437" cy="579" r="3.6"/><circle cx="272" cy="590" r="3.6"/><circle cx="292" cy="588" r="3.6"/><circle cx="313" cy="586" r="3.6"/><circle cx="333" cy="588" r="6.5"/><circle cx="352" cy="590" r="5.5"/><circle cx="376" cy="597" r="3.6"/><circle cx="395" cy="591" r="3.6"/><circle cx="421" cy="590" r="3.6"/><circle cx="254" cy="598" r="3.6"/><circle cx="283" cy="606" r="3.6"/><circle cx="302" cy="604" r="3.6"/><circle cx="321" cy="604" r="3.6"/><circle cx="340" cy="605" r="3.6"/><circle cx="357" cy="613" r="3.6"/><circle cx="390" cy="610" r="3.6"/><circle cx="409" cy="604" r="3.6"/><circle cx="266" cy="612" r="3.6"/><circle cx="375" cy="621" r="3.6"/><circle class="g" cx="410" cy="623" r="3.6"/><circle class="g" cx="392" cy="629" r="3.6"/><circle cx="340" cy="624" r="3.6"/><circle cx="357" cy="632" r="3.6"/><circle class="g" cx="283" cy="627" r="3.6"/><circle cx="265" cy="631" r="3.6"/><circle cx="296" cy="642" r="6"/><circle class="g" cx="375" cy="640" r="5"/><circle class="g" cx="406" cy="642" r="3.6"/><circle cx="322" cy="629" r="3.6"/><circle cx="320" cy="648" r="3.6"/><circle cx="338" cy="644" r="3.6"/><circle cx="357" cy="651" r="3.6"/><circle cx="390" cy="652" r="5"/><circle cx="373" cy="662" r="8"/><circle class="g" cx="390" cy="670" r="5"/><circle cx="406" cy="661" r="3.6"/><circle cx="305" cy="660" r="3.6"/><circle cx="333" cy="662" r="3.6"/><circle class="g" cx="417" cy="676" r="3.6"/><circle cx="351" cy="669" r="3.6"/><circle class="g" cx="264" cy="676" r="3.6"/><circle class="g" cx="294" cy="676" r="3.6"/><circle class="g" cx="318" cy="674" r="5"/><circle cx="335" cy="681" r="3.6"/><circle cx="353" cy="687" r="3.6"/><circle cx="385" cy="689" r="3.6"/><circle cx="403" cy="694" r="3.6"/><circle class="y" cx="260" cy="695" r="3.3"/><circle cx="311" cy="692" r="5"/><circle cx="339" cy="700" r="3.6"/><circle class="g" cx="286" cy="702" r="3.6"/><circle class="g" cx="369" cy="698" r="3.6"/><circle cx="385" cy="708" r="3.6"/><circle cx="322" cy="708" r="3.6"/><circle cx="418" cy="707" r="5"/><circle cx="402" cy="717" r="3.6"/><circle cx="435" cy="715" r="3.6"/><circle class="y" cx="276" cy="723" r="3.3"/><circle class="g" cx="369" cy="717" r="3.6"/><circle cx="385" cy="727" r="3.6"/><circle cx="350" cy="722" r="3.6"/><circle cx="420" cy="727" r="7"/><circle cx="327" cy="737" r="3.6"/><circle cx="349" cy="741" r="3.6"/><circle cx="369" cy="736" r="7"/><circle cx="389" cy="745" r="5"/><circle cx="408" cy="743" r="3.6"/><circle cx="434" cy="748" r="3.6"/><circle cx="364" cy="755" r="3.6"/><circle cx="335" cy="763" r="3.6"/><circle class="g" cx="388" cy="764" r="6"/><circle cx="407" cy="762" r="3.6"/><circle cx="426" cy="765" r="3.6"/><circle cx="352" cy="772" r="3.6"/><circle cx="371" cy="772" r="3.6"/><circle cx="398" cy="781" r="5"/><circle cx="417" cy="781" r="3.6"/><circle cx="436" cy="783" r="3.6"/><circle class="g" cx="374" cy="791" r="4.5"/><circle cx="404" cy="798" r="3.6"/>
<circle cx="461" cy="552" r="3.6"/><circle cx="445" cy="562" r="3.6"/><circle cx="456" cy="578" r="3.6"/><circle cx="481" cy="595" r="3.6"/><circle cx="499" cy="602" r="3.6"/><circle cx="442" cy="610" r="3.6"/><circle cx="462" cy="608" r="3.6"/><circle cx="516" cy="610" r="3.6"/><circle cx="534" cy="604" r="3.6"/><circle cx="500" cy="621" r="7"/><circle class="g" cx="562" cy="625" r="6"/><circle cx="543" cy="620" r="3.6"/><circle cx="454" cy="625" r="3.6"/><circle cx="473" cy="635" r="5"/><circle cx="517" cy="629" r="3.6"/><circle cx="498" cy="640" r="3.6"/><circle cx="533" cy="640" r="3.6"/><circle cx="552" cy="641" r="3.6"/><circle cx="568" cy="650" r="3.6"/><circle cx="453" cy="644" r="3.6"/><circle cx="481" cy="657" r="3.6"/><circle cx="500" cy="659" r="3.6"/><circle cx="516" cy="648" r="3.6"/><circle cx="541" cy="657" r="3.6"/><circle class="g" cx="463" cy="661" r="3.3"/><circle cx="558" cy="666" r="3.6"/><circle cx="524" cy="665" r="3.6"/><circle cx="489" cy="675" r="3.6"/><circle cx="509" cy="676" r="3.6"/><circle cx="541" cy="676" r="3.6"/><circle cx="467" cy="686" r="3.6"/><circle cx="525" cy="685" r="3.6"/><circle cx="541" cy="695" r="3.6"/><circle cx="558" cy="685" r="3.6"/><circle cx="442" cy="695" r="3.6"/><circle cx="479" cy="701" r="3.6"/><circle cx="448" cy="729" r="3.6"/><circle cx="466" cy="732" r="3.6"/><circle cx="480" cy="720" r="5.5"/><circle cx="495" cy="732" r="8"/><circle cx="508" cy="714" r="3.6"/><circle cx="527" cy="714" r="3.6"/><circle cx="547" cy="713" r="3.6"/><circle cx="563" cy="723" r="3.6"/><circle cx="517" cy="732" r="3.6"/><circle cx="538" cy="730" r="3.6"/><circle cx="557" cy="741" r="3.6"/><circle cx="453" cy="747" r="3.6"/><circle cx="472" cy="751" r="3.6"/><circle cx="489" cy="758" r="3.6"/><circle cx="506" cy="747" r="3.6"/><circle cx="522" cy="756" r="3.6"/><circle cx="540" cy="749" r="3.6"/><circle cx="445" cy="764" r="3.6"/><circle cx="474" cy="769" r="3.6"/><circle cx="491" cy="777" r="3.6"/><circle cx="507" cy="766" r="3.6"/><circle cx="524" cy="775" r="3.6"/><circle cx="541" cy="768" r="3.6"/><circle class="g" cx="557" cy="778" r="6"/><circle cx="455" cy="783" r="3.6"/><circle cx="475" cy="789" r="3.6"/><circle cx="492" cy="796" r="3.6"/><circle cx="508" cy="786" r="3.6"/><circle cx="526" cy="794" r="3.6"/>
<circle class="y" cx="496" cy="583" r="3.3"/><circle class="y" cx="510" cy="571" r="3.3"/><circle class="y" cx="528" cy="578" r="3.3"/><circle class="y" cx="514" cy="590" r="3.3"/>
<circle id="lime-hub" class="g" cx="430" cy="663" r="12"/>
</g>
</g>
</svg>
